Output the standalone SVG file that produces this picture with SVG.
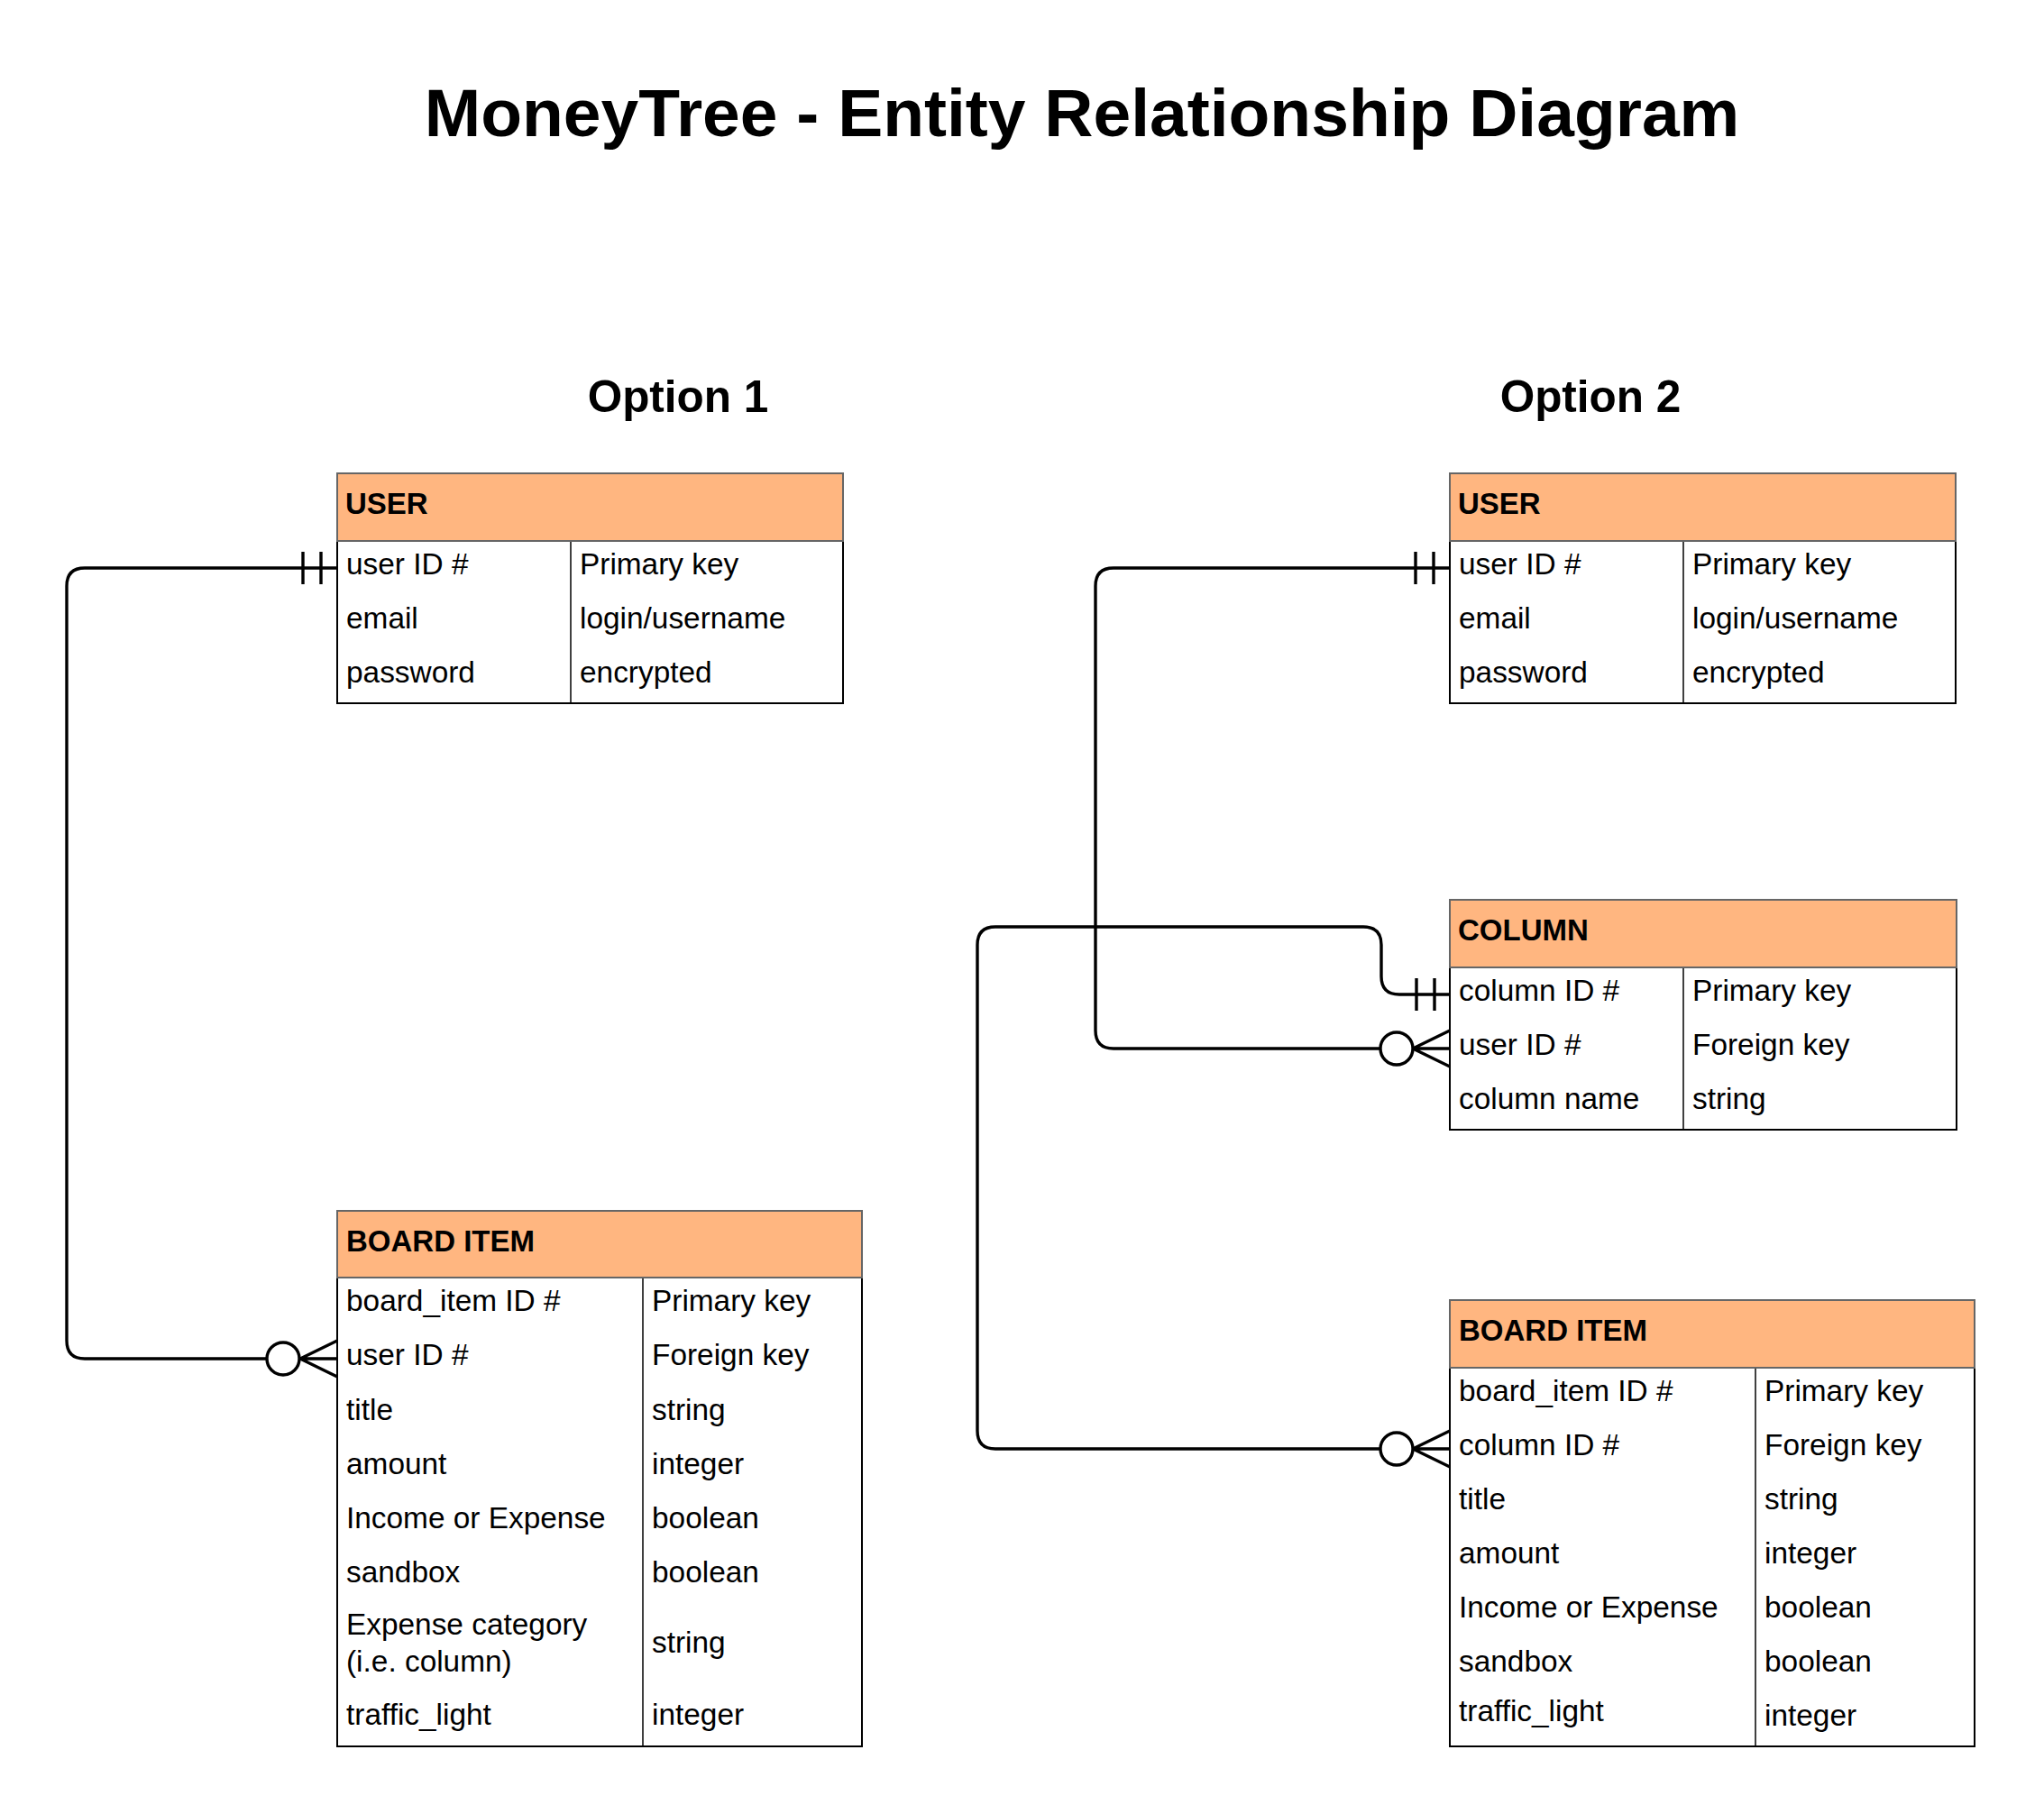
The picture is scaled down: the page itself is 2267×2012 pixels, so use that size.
<svg xmlns="http://www.w3.org/2000/svg" width="2267" height="2012" viewBox="0 0 2267 2012">
<style>
  text { font-family: "Liberation Sans", Arial, sans-serif; fill: #000; }
  .title { font-size: 75px; font-weight: bold; text-anchor: middle; }
  .opt { font-size: 49.5px; font-weight: bold; text-anchor: middle; }
  .hdr { fill: #FFB680; stroke: #666666; stroke-width: 2; }
  .hdrt { font-size: 33px; font-weight: bold; }
  .body { fill: #ffffff; stroke: #000000; stroke-width: 2; }
  .div { stroke: #000000; stroke-width: 1.5; }
  .cell { font-size: 33.4px; }
  .conn { fill: none; stroke: #000000; stroke-width: 3.4; }
  .circ { fill: #ffffff; stroke: #000000; stroke-width: 3.4; }
</style>
<rect width="2267" height="2012" fill="#ffffff"/>

<text class="title" x="1200" y="151">MoneyTree - Entity Relationship Diagram</text>
<text class="opt" x="752" y="457">Option 1</text>
<text class="opt" x="1764" y="457">Option 2</text>

<g id="connectors">
  <!-- Option 1: USER -> BOARD ITEM -->
  <path class="conn" d="M 374 630 H 94 Q 74 630 74 650 V 1487 Q 74 1507 94 1507 H 296"/>
  <path class="conn" d="M 336 612 V 648 M 356 612 V 648"/>
  <circle class="circ" cx="314" cy="1507" r="18"/>
  <path class="conn" d="M 333 1507 L 374 1487 M 333 1507 L 374 1507 M 333 1507 L 374 1527"/>

  <!-- Option 2: USER -> COLUMN -->
  <path class="conn" d="M 1608 630 H 1235 Q 1215 630 1215 650 V 1143 Q 1215 1163 1235 1163 H 1531"/>
  <path class="conn" d="M 1570 612 V 648 M 1590 612 V 648"/>
  <circle class="circ" cx="1549" cy="1163" r="18"/>
  <path class="conn" d="M 1567 1163 L 1608 1143 M 1567 1163 L 1608 1163 M 1567 1163 L 1608 1183"/>

  <!-- Option 2: COLUMN -> BOARD ITEM -->
  <path class="conn" d="M 1608 1103 H 1552 Q 1532 1103 1532 1083 V 1048 Q 1532 1028 1512 1028 H 1104 Q 1084 1028 1084 1048 V 1587 Q 1084 1607 1104 1607 H 1531"/>
  <path class="conn" d="M 1571 1085 V 1121 M 1591 1085 V 1121"/>
  <circle class="circ" cx="1549" cy="1607" r="18"/>
  <path class="conn" d="M 1567 1607 L 1608 1587 M 1567 1607 L 1608 1607 M 1567 1607 L 1608 1627"/>
</g>

<g id="opt1-user">
  <rect class="body" x="374" y="600" width="561" height="180"/>
  <line class="div" x1="633" y1="600" x2="633" y2="780"/>
  <rect class="hdr" x="374" y="525" width="561" height="75"/>
  <text class="hdrt" x="383" y="570">USER</text>
  <text class="cell" x="384" y="637">user ID #</text>
  <text class="cell" x="643" y="637">Primary key</text>
  <text class="cell" x="384" y="697">email</text>
  <text class="cell" x="643" y="697">login/username</text>
  <text class="cell" x="384" y="757">password</text>
  <text class="cell" x="643" y="757">encrypted</text>
</g>

<g id="opt1-board-item">
  <rect class="body" x="374" y="1417" width="582" height="520"/>
  <line class="div" x1="713" y1="1417" x2="713" y2="1937"/>
  <rect class="hdr" x="374" y="1343" width="582" height="74"/>
  <text class="hdrt" x="384" y="1388">BOARD ITEM</text>
  <text class="cell" x="384" y="1454">board_item ID #</text>
  <text class="cell" x="723" y="1454">Primary key</text>
  <text class="cell" x="384" y="1514">user ID #</text>
  <text class="cell" x="723" y="1514">Foreign key</text>
  <text class="cell" x="384" y="1575">title</text>
  <text class="cell" x="723" y="1575">string</text>
  <text class="cell" x="384" y="1635">amount</text>
  <text class="cell" x="723" y="1635">integer</text>
  <text class="cell" x="384" y="1695">Income or Expense</text>
  <text class="cell" x="723" y="1695">boolean</text>
  <text class="cell" x="384" y="1755">sandbox</text>
  <text class="cell" x="723" y="1755">boolean</text>
  <text class="cell" x="384" y="1813">Expense category</text>
  <text class="cell" x="384" y="1854">(i.e. column)</text>
  <text class="cell" x="723" y="1833">string</text>
  <text class="cell" x="384" y="1913">traffic_light</text>
  <text class="cell" x="723" y="1913">integer</text>
</g>

<g id="opt2-user">
  <rect class="body" x="1608" y="600" width="561" height="180"/>
  <line class="div" x1="1867" y1="600" x2="1867" y2="780"/>
  <rect class="hdr" x="1608" y="525" width="561" height="75"/>
  <text class="hdrt" x="1617" y="570">USER</text>
  <text class="cell" x="1618" y="637">user ID #</text>
  <text class="cell" x="1877" y="637">Primary key</text>
  <text class="cell" x="1618" y="697">email</text>
  <text class="cell" x="1877" y="697">login/username</text>
  <text class="cell" x="1618" y="757">password</text>
  <text class="cell" x="1877" y="757">encrypted</text>
</g>

<g id="opt2-column">
  <rect class="body" x="1608" y="1073" width="562" height="180"/>
  <line class="div" x1="1867" y1="1073" x2="1867" y2="1253"/>
  <rect class="hdr" x="1608" y="998" width="562" height="75"/>
  <text class="hdrt" x="1617" y="1043">COLUMN</text>
  <text class="cell" x="1618" y="1110">column ID #</text>
  <text class="cell" x="1877" y="1110">Primary key</text>
  <text class="cell" x="1618" y="1170">user ID #</text>
  <text class="cell" x="1877" y="1170">Foreign key</text>
  <text class="cell" x="1618" y="1230">column name</text>
  <text class="cell" x="1877" y="1230">string</text>
</g>

<g id="opt2-board-item">
  <rect class="body" x="1608" y="1517" width="582" height="420"/>
  <line class="div" x1="1947" y1="1517" x2="1947" y2="1937"/>
  <rect class="hdr" x="1608" y="1442" width="582" height="75"/>
  <text class="hdrt" x="1618" y="1487">BOARD ITEM</text>
  <text class="cell" x="1618" y="1554">board_item ID #</text>
  <text class="cell" x="1957" y="1554">Primary key</text>
  <text class="cell" x="1618" y="1614">column ID #</text>
  <text class="cell" x="1957" y="1614">Foreign key</text>
  <text class="cell" x="1618" y="1674">title</text>
  <text class="cell" x="1957" y="1674">string</text>
  <text class="cell" x="1618" y="1734">amount</text>
  <text class="cell" x="1957" y="1734">integer</text>
  <text class="cell" x="1618" y="1794">Income or Expense</text>
  <text class="cell" x="1957" y="1794">boolean</text>
  <text class="cell" x="1618" y="1854">sandbox</text>
  <text class="cell" x="1957" y="1854">boolean</text>
  <text class="cell" x="1618" y="1909">traffic_light</text>
  <text class="cell" x="1957" y="1914">integer</text>
</g>
</svg>
